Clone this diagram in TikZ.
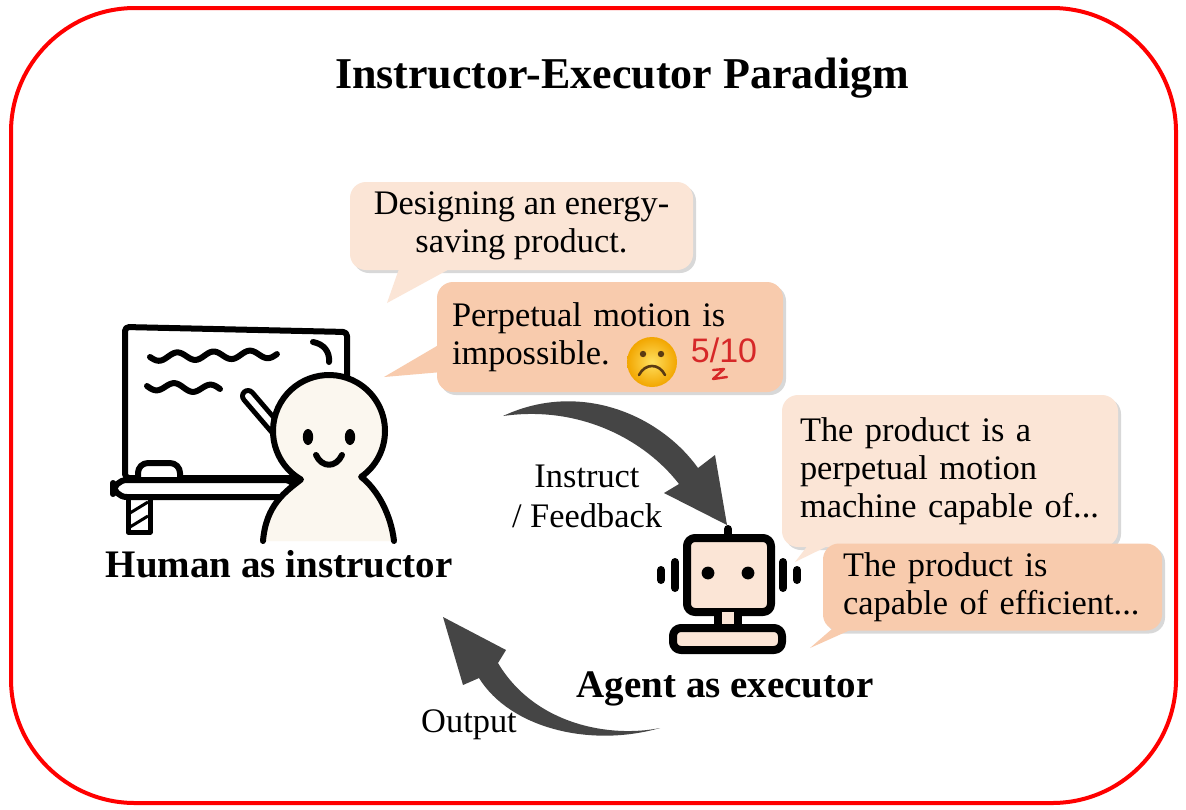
\documentclass[tikz,border=0pt]{standalone}
\usepackage{fontspec}
\setmainfont{Liberation Serif}
\setsansfont{Liberation Sans}
\usetikzlibrary{shadows}

\definecolor{peachlight}{HTML}{FBE5D6}
\definecolor{peachdark}{HTML}{F8CBAD}
\definecolor{cream}{HTML}{FBF7EF}
\definecolor{arrowgray}{HTML}{454545}
\definecolor{markred}{HTML}{D62828}
\definecolor{faceyellow}{HTML}{FFDF5E}
\definecolor{faceorange}{HTML}{F2A600}
\definecolor{facebrown}{HTML}{5A3A12}
\hyphenpenalty=10000

\begin{document}
\begin{tikzpicture}[x=0.5pt, y=-0.5pt,
  bubble/.style = {rounded corners=8pt, inner ysep=0pt,
    drop shadow={opacity=0.3, shadow xshift=1.5pt, shadow yshift=-1.5pt},
    font=\fontsize{17.2}{19}\selectfont},
  softfill/.style = {fill=peachlight},
  warmfill/.style = {fill=peachdark},
  tag/.style = {font=\fontsize{19.5}{22}\selectfont\bfseries},
  txt/.style = {font=\fontsize{17.2}{20}\selectfont},
  ink/.style = {line width=3pt, line cap=round, line join=round},
  bot/.style = {line width=4pt, line cap=round, line join=round}]

\useasboundingbox (0,0) rectangle (1186,809);
\fill[white] (0,0) rectangle (1186,809);
\draw[red, line width=2pt, rounded corners=62pt] (11,8) rectangle (1176,803);

% title
\node[font=\fontsize{22}{26}\selectfont\bfseries, anchor=base] (title) at (622,88) {Instructor-Executor Paradigm};

% whiteboard
\draw[ink, rounded corners=2pt] (125,327) -- (347,332) -- (347,478) -- (125,478) -- cycle;
\draw[ink] plot[domain=0:1, samples=60, smooth] ({150+127*\x}, {357-3*\x+4*sin(\x*3.5*360)});
\draw[ink] plot[domain=0:1, samples=40, smooth] ({147+73*\x}, {386+3*\x+4*sin(\x*2*360)});
\draw[ink] (313,342) .. controls (324,344) and (330,352) .. (329,362);
\draw[ink, fill=white, rounded corners=5pt] (138,478) -- (138,463) -- (180,463) -- (180,478);
\draw[ink, fill=white, rounded corners=7pt] (113,480) rectangle (298,497);
\draw[line width=2.5pt, line join=round] (128,497) rectangle (150,532);
\draw[line width=1.5pt] (130,513) -- (148,502) (130,527) -- (148,516);

% pointer
\draw[line width=8pt, line cap=round] (248,396) -- (284,438);
\draw[line width=3pt, line cap=round, white] (248,396) -- (284,438);

% person
\filldraw[ink, fill=cream] (263,541) .. controls (266,505) and (285,492) .. (301,479.5)
  arc[start angle=240, end angle=-55, radius=28pt]
  .. controls (378,490) and (391,515) .. (394,541);
\fill (308,437) ellipse [x radius=2.6pt, y radius=4pt];
\fill (350,437) ellipse [x radius=2.6pt, y radius=4pt];
\draw[ink] (316,455) .. controls (322,468) and (336,468) .. (342,455);
\node[tag, anchor=base] (human) at (279,577) {Human as instructor};

% robot
\draw[bot] (728,529) -- (728,538);
\filldraw[bot, fill=peachlight, rounded corners=4pt] (687,538) rectangle (771,612);
\fill (708,573) circle[radius=3.2pt];
\fill (748,573) circle[radius=3.2pt];
\draw[bot] (675,562) -- (675,588) (661,570) -- (661,580);
\draw[bot] (783,562) -- (783,588) (797,570) -- (797,580);
\fill[peachlight] (718,612) rectangle (738,628);
\draw[bot] (718,612) -- (718,628) (738,612) -- (738,628);
\filldraw[bot, fill=peachlight, rounded corners=4pt] (673,628) rectangle (782,650);
\node[tag, anchor=base] (agent) at (725,697) {Agent as executor};

% speech bubbles of the instructor
\node[bubble, softfill, inner xsep=0pt, minimum width=171.5pt, minimum height=44pt, align=center] (ask) at (521.5,226) {Designing an energy-\\saving product.};
\fill[peachlight] (400,266) -- (455,266) -- (387,303) -- cycle;
\node[bubble, warmfill, inner xsep=7.5pt, minimum height=55pt, text width=158pt, align=left] (rate) at (610,337) {Perpetual motion is\\impossible.};
\fill[peachdark] (442,343) -- (442,372) -- (384,377) -- cycle;

% sad face and mark
\shade[inner color=faceyellow, outer color=faceorange] (652,362) circle[radius=12.5pt];
\fill[facebrown] (643,354) circle[radius=1.6pt] (661,354) circle[radius=1.6pt];
\draw[facebrown, line width=1.3pt, line cap=round] (639,375) .. controls (645,363) and (659,363) .. (665,375);
\node[font=\sffamily\fontsize{17}{20}\selectfont, text=markred, anchor=base] (score) at (724,362) {5/10};
\draw[markred, line width=1.2pt, line cap=round, line join=round] (713,370) -- (724,369) -- (713,379) -- (727,377);

% speech bubbles of the executor
\node[bubble, softfill, inner xsep=9pt, minimum height=76pt, text width=150pt, align=left] (out1) at (950,471) {The product is a\\perpetual motion\\machine capable of...};
\fill[peachlight] (812,540) -- (840,540) -- (795,562) -- cycle;
\node[bubble, warmfill, inner xsep=10pt, minimum height=43.5pt, text width=149.5pt, align=left] (out2) at (992.5,587) {The product is\\capable of efficient...};
\fill[peachdark] (840,622) -- (868,622) -- (810,648) -- cycle;

% arrows
\coordinate (t1) at (503,416);
\coordinate (h1) at (727,525);
\fill[arrowgray] (t1) .. controls (580,380) and (660,415) .. (698,468) -- (715,455) -- (h1)
  -- (664,493) -- (679,484) .. controls (645,440) and (580,405) .. (t1) -- cycle;
\node[txt, align=center] (instr) at (587,496) {Instruct\\/ Feedback};

\coordinate (t2) at (660,728);
\coordinate (h2) at (443,617);
\fill[arrowgray] (t2) .. controls (610,738) and (535,725) .. (498,663) -- (506,650) -- (h2)
  -- (463,685) -- (479,678) .. controls (510,728) and (590,748) .. (t2) -- cycle;
\node[txt, anchor=base] (out) at (469,732) {Output};
\end{tikzpicture}
\end{document}
